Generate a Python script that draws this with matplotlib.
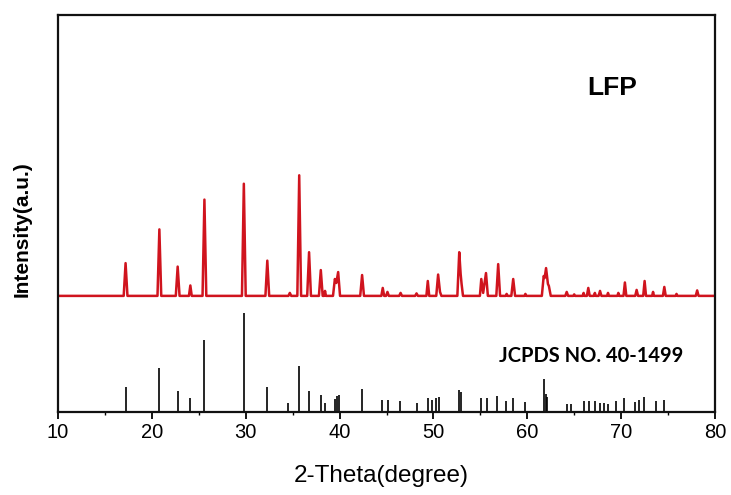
import matplotlib
matplotlib.use("Agg")
import matplotlib.pyplot as plt
from matplotlib import font_manager
from matplotlib.ticker import MultipleLocator

# ---------------- data ----------------
# measured LFP pattern: vertices of the trace (2theta, net intensity above its baseline)
xrd_2theta = [10.0,
              17.0, 17.2, 17.4,
              20.6, 20.8, 21.0,
              22.55, 22.75, 22.95,
              23.95, 24.1, 24.25,
              25.4, 25.6, 25.8,
              29.6, 29.8, 30.0,
              32.1, 32.3, 32.5,
              34.55, 34.7, 34.85,
              35.5, 35.7, 35.9,
              36.55, 36.75, 36.95,
              37.8, 38.0, 38.2,
              38.35, 38.45, 38.55,
              39.3, 39.5, 39.65, 39.85, 40.05,
              42.2, 42.4, 42.6,
              44.45, 44.6, 44.75,
              44.95, 45.1, 45.25,
              46.35, 46.5, 46.65,
              48.05, 48.2, 48.35,
              49.25, 49.4, 49.55,
              50.3, 50.5, 50.7, 50.85,
              52.55, 52.75, 52.9, 53.0, 53.15,
              54.95, 55.1, 55.3, 55.6, 55.8,
              56.7, 56.9, 57.1,
              57.7, 57.8, 57.9,
              58.3, 58.5, 58.7,
              59.7, 59.8, 59.9,
              61.55, 61.75, 61.85, 62.0, 62.2, 62.3, 62.5,
              64.05, 64.2, 64.35,
              64.9, 65.0, 65.1,
              65.9, 66.0, 66.1, 66.35, 66.5, 66.65,
              67.1, 67.2, 67.3,
              67.6, 67.75, 67.9,
              68.5, 68.6, 68.7,
              69.6, 69.7, 69.8,
              70.25, 70.4, 70.55,
              71.5, 71.65, 71.8,
              72.35, 72.5, 72.65,
              73.3, 73.4, 73.5,
              74.45, 74.6, 74.75,
              75.8, 75.9, 76.0,
              77.95, 78.1, 78.25,
              80.0]
xrd_intensity = [0.0,
                 0, 33, 0,
                 0, 67, 0,
                 0, 29.5, 0,
                 0, 10.5, 0,
                 0, 97, 0,
                 0, 113, 0,
                 0, 35.5, 0,
                 0, 3, 0,
                 0, 121.5, 0,
                 0, 44, 0,
                 0, 26, 0,
                 0, 5, 0,
                 0, 17, 13, 24, 0,
                 0, 21, 0,
                 0, 8, 0,
                 0, 4, 0,
                 0, 3, 0,
                 0, 2.5, 0,
                 0, 15, 0,
                 0, 21.5, 4, 0,
                 0, 44, 22, 12, 0,
                 0, 17, 3, 23, 0,
                 0, 32, 0,
                 0, 2, 0,
                 0, 17, 0,
                 0, 2, 0,
                 0, 20, 18, 28, 12, 10, 0,
                 0, 4, 0,
                 0, 1.5, 0,
                 0, 3, 0, 0, 8, 0,
                 0, 3, 0,
                 0, 5, 0,
                 0, 3, 0,
                 0, 3, 0,
                 0, 13.5, 0,
                 0, 6, 0,
                 0, 15, 0,
                 0, 4, 0,
                 0, 9, 0,
                 0, 2, 0,
                 0, 5.5, 0,
                 0.0]

# reference card JCPDS 40-1499: line positions and relative intensities
ref_2theta = [17.2, 20.8, 22.75, 24.1, 25.6, 29.8, 32.3, 34.55, 35.7, 36.7,
              38.0, 38.45, 39.5, 39.75, 39.95, 42.4, 44.55, 45.15, 46.45, 48.3,
              49.45, 49.8, 50.3, 50.6, 52.75, 52.9, 55.1, 55.7, 56.75, 57.7,
              58.45, 59.8, 61.8, 61.95, 62.1, 64.2, 64.7, 66.0, 66.6, 67.2,
              67.7, 68.2, 68.55, 69.5, 70.3, 71.45, 71.9, 72.4, 73.7, 74.55]
ref_intensity = [25, 44, 21.5, 14, 73, 100, 25, 9, 46, 21,
                 17, 9, 13, 16, 17, 23, 12, 12, 11, 9,
                 14, 12, 14, 15, 22, 20, 14, 14, 16, 11,
                 14, 10, 33, 18, 15, 8, 8, 11, 11, 11,
                 9, 9, 8, 11, 14, 10, 12, 15, 11, 12]

x_ticks = [10, 20, 30, 40, 50, 60, 70, 80]
sample_label = "LFP"
card_label = "JCPDS NO. 40-1499"
x_title = "2-Theta(degree)"
y_title = "Intensity(a.u.)"
trace_offset = 117

# ---------------- figure ----------------
def pick(names):
    for n in names:
        try:
            font_manager.findfont(font_manager.FontProperties(family=n), fallback_to_default=False)
            return n
        except Exception:
            continue
    return "DejaVu Sans"

sans = pick(["Liberation Sans", "Arial", "DejaVu Sans"])
card_font = pick(["Lato", "Liberation Sans"])

fig = plt.figure(figsize=(7.31, 4.95), dpi=100)
ax = fig.add_axes([58 / 731, 1 - 412 / 495, 657 / 731, 397 / 495])

ax.plot(xrd_2theta, [v + trace_offset for v in xrd_intensity],
        color="#d0141e", lw=1.8, solid_joinstyle="round")
ax.vlines(ref_2theta, 0, ref_intensity, color="black", lw=1.2)

ax.set_xlim(10, 80)
ax.set_ylim(0, 400)
ax.set_xticks(x_ticks)
ax.xaxis.set_minor_locator(MultipleLocator(5))
ax.set_yticks([])
ax.tick_params(axis="x", which="major", direction="out", length=5, width=1.3,
               labelsize=14.5, pad=3)
ax.tick_params(axis="x", which="minor", direction="out", length=2.5, width=1.0)
for lab in ax.get_xticklabels():
    lab.set_fontfamily(sans)
for sp in ax.spines.values():
    sp.set_linewidth(1.6)
    sp.set_color("#111111")

ax.text(69.0, 326, sample_label, ha="center", va="center", fontsize=19,
        fontweight="bold", family=sans)
ax.text(66.8, 56, card_label, ha="center", va="center", fontsize=14.5,
        fontweight="bold", family=card_font)

ax.set_xlabel(x_title, fontsize=17.5, family=sans)
ax.xaxis.set_label_coords(0.4916, -0.16)
ax.xaxis.label.set_va("center")
ax.set_ylabel(y_title, fontsize=15, fontweight="bold", family=sans)
ax.yaxis.set_label_coords(-0.055, 0.461)
ax.yaxis.label.set_va("center")

fig.savefig("out.png", dpi=100)
